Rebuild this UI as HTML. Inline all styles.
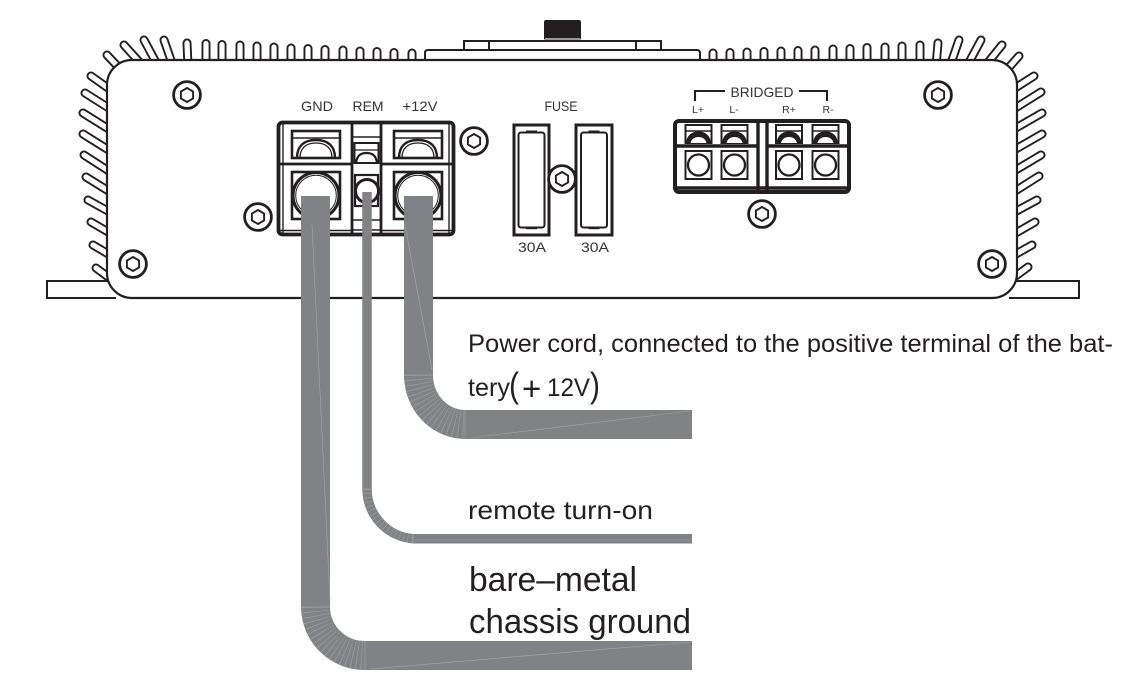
<!DOCTYPE html>
<html><head><meta charset="utf-8"><style>
html,body{margin:0;padding:0;background:#fff;width:1141px;height:691px;overflow:hidden}
svg{display:block}
text{font-family:"Liberation Sans",sans-serif;fill:#231f20}
.s{fill:none;stroke:#231f20}
.lab{font-size:14px;fill:#333;text-anchor:middle}
</style></head><body>
<svg width="1141" height="691" viewBox="0 0 1141 691" xmlns="http://www.w3.org/2000/svg">
<defs>
<g id="fins">
<line x1="187" y1="43" x2="188" y2="66"/><line x1="206" y1="43.5" x2="206" y2="66"/><line x1="222" y1="44.5" x2="222" y2="66"/><line x1="240" y1="45" x2="240" y2="66"/><line x1="257" y1="46" x2="257" y2="66"/><line x1="274" y1="47" x2="274" y2="66"/><line x1="291" y1="48" x2="291" y2="66"/><line x1="308" y1="48.5" x2="308" y2="66"/><line x1="325" y1="49.5" x2="325" y2="66"/><line x1="343" y1="50" x2="343" y2="66"/><line x1="360" y1="51" x2="360" y2="66"/><line x1="377" y1="51.5" x2="377" y2="66"/><line x1="394" y1="52.5" x2="394" y2="66"/><line x1="412" y1="53" x2="412" y2="66"/>
<line x1="713" y1="53" x2="713" y2="66"/><line x1="730" y1="52.5" x2="730" y2="66"/><line x1="747" y1="52" x2="747" y2="66"/><line x1="764" y1="51.5" x2="764" y2="66"/><line x1="781" y1="51" x2="781" y2="66"/><line x1="798" y1="50.5" x2="798" y2="66"/><line x1="815" y1="50" x2="815" y2="66"/><line x1="833" y1="49" x2="833" y2="66"/><line x1="850" y1="48.5" x2="850" y2="66"/><line x1="867" y1="47.5" x2="867" y2="66"/><line x1="885" y1="47" x2="885" y2="66"/><line x1="902" y1="46" x2="902" y2="66"/><line x1="920" y1="45" x2="920" y2="66"/><line x1="938" y1="43" x2="936" y2="66"/>
<line x1="164" y1="40" x2="173" y2="66"/><line x1="144" y1="40" x2="158" y2="66"/><line x1="124" y1="45" x2="143" y2="66"/><line x1="107" y1="55" x2="123" y2="72"/>
<line x1="91" y1="76" x2="115" y2="93"/><line x1="85" y1="93" x2="115" y2="112"/><line x1="83" y1="113" x2="115" y2="133"/><line x1="83" y1="134" x2="115" y2="154"/><line x1="84" y1="155" x2="115" y2="175"/><line x1="86" y1="177" x2="115" y2="195"/><line x1="88" y1="200" x2="115" y2="215"/><line x1="91" y1="222" x2="115" y2="236"/><line x1="93" y1="245" x2="115" y2="258"/><line x1="96" y1="268" x2="115" y2="282"/>
<line x1="959" y1="40" x2="950" y2="66"/><line x1="981" y1="40" x2="967" y2="66"/><line x1="1002" y1="45" x2="985" y2="66"/><line x1="1019" y1="56" x2="1003" y2="74"/>
<line x1="1034" y1="76" x2="1009" y2="92"/><line x1="1041" y1="92" x2="1009" y2="112"/><line x1="1042" y1="113" x2="1009" y2="132"/><line x1="1042" y1="134" x2="1009" y2="153"/><line x1="1041" y1="155" x2="1009" y2="174"/><line x1="1039" y1="176" x2="1009" y2="195"/><line x1="1037" y1="200" x2="1009" y2="215"/><line x1="1035" y1="222" x2="1009" y2="237"/><line x1="1032" y1="245" x2="1009" y2="258"/><line x1="1028" y1="267" x2="1009" y2="281"/>
</g>
<g id="sc" fill="none" stroke="#231f20"><circle r="13.4" stroke-width="2.8" fill="#fff"/><polygon points="0,-7 6.1,-3.5 6.1,3.5 0,7 -6.1,3.5 -6.1,-3.5" stroke-width="1.9"/></g>
<g id="bigtop" fill="none" stroke="#231f20">
<rect x="0" y="0" width="48" height="27" stroke-width="2.6"/>
<line x1="1" y1="7" x2="47" y2="7" stroke-width="1.4"/>
<path d="M5 27C5 15 12 9 24 9S43 15 43 27" stroke-width="2.4"/>
<path d="M8 27C8 17 14 12 24 12S40 17 40 27" stroke-width="1.3"/>
</g>
<g id="bigbot" fill="none" stroke="#231f20">
<rect x="0" y="0" width="48" height="47" stroke-width="2.6"/>
<circle cx="24" cy="23.5" r="23" fill="#fff" stroke-width="3"/>
<circle cx="24" cy="23.5" r="20.3" stroke-width="1"/>
</g>
<g id="stop" fill="none" stroke="#231f20">
<rect x="0" y="0" width="26" height="18" stroke-width="2"/>
<line x1="0" y1="6" x2="26" y2="6" stroke-width="1.4"/>
<path d="M1 18C2 10 7 7 13 7S24 10 25 18Z" fill="#231f20" stroke-width="1"/>
<path d="M5 18C6 14 9 12 13 12S20 14 21 18Z" fill="#fff" stroke="none"/>
</g>
<g id="sbot" fill="none" stroke="#231f20">
<rect x="0" y="0" width="26" height="28" stroke-width="2"/>
<circle cx="13" cy="14" r="10.5" fill="#fff" stroke-width="2.3"/>
</g>
</defs>

<use href="#fins" stroke="#231f20" stroke-width="9" stroke-linecap="round"/>
<use href="#fins" stroke="#fff" stroke-width="5.2" stroke-linecap="round"/>

<!-- top platform -->
<rect x="544" y="20" width="37" height="20" rx="2" fill="#231f20"/>
<rect x="545" y="38" width="35" height="3" fill="#999"/>
<path class="s" stroke-width="2" d="M425 60V53Q425 50 428 50H697Q700 50 700 53V60M464 50V41H661V50M489 41V50M636 41V50" fill="#fff"/>

<!-- flanges -->
<path class="s" stroke-width="2" fill="#fff" d="M116 281H47V298H116"/>
<path class="s" stroke-width="2" fill="#fff" d="M1009 281H1079V298H1009"/>

<!-- body -->
<rect x="107" y="60" width="910" height="238" rx="25" fill="#fff" stroke="#231f20" stroke-width="2.2"/>

<!-- screws -->
<use href="#sc" x="187" y="95"/><use href="#sc" x="258" y="217"/><use href="#sc" x="133" y="264"/>
<use href="#sc" x="938" y="95"/><use href="#sc" x="992" y="264"/><use href="#sc" x="474" y="141"/>
<use href="#sc" x="762" y="214"/>

<!-- main terminal -->
<rect x="278.5" y="122.500" width="175" height="112" rx="4" fill="#fff" stroke="#231f20" stroke-width="3.8"/>
<path class="s" stroke-width="2.8" d="M352 123V234M381 123V234M278 164H352M381 164H454"/>
<path class="s" stroke-width="1.4" d="M283 123V234M449 123V234M279 230.500H352M381 230.500H453M352 137H381M352 220H381M352 230H381"/>
<use href="#bigtop" x="292" y="131"/><use href="#bigtop" x="394" y="131"/>
<use href="#bigbot" x="292" y="172"/><use href="#bigbot" x="394" y="172"/>
<g fill="none" stroke="#231f20">
<rect x="354.500" y="143" width="24" height="20" stroke-width="2"/>
<line x1="355" y1="150" x2="378" y2="150" stroke-width="1.2"/>
<path d="M356 163C357 155 361 153 366.500 153S376 155 377 163" stroke-width="2.2"/>
<rect x="355" y="175" width="23" height="31" stroke-width="2.2"/>
<circle cx="367" cy="191" r="11.500" fill="#fff" stroke-width="3"/>
</g>

<!-- fuses -->
<g fill="none" stroke="#231f20">
<rect x="514" y="125" width="35" height="110" stroke-width="3"/>
<rect x="518.500" y="132.500" width="26" height="95" rx="2.500" stroke-width="2"/>
<rect x="526" y="130.500" width="11" height="2" fill="#231f20" stroke="none"/>
<rect x="526" y="227" width="11" height="2.200" fill="#231f20" stroke="none"/>
<rect x="576" y="125" width="36" height="110" stroke-width="3"/>
<rect x="581" y="132.500" width="26" height="95" rx="2.500" stroke-width="2"/>
<rect x="588.500" y="130.500" width="11" height="2" fill="#231f20" stroke="none"/>
<rect x="588.500" y="227" width="11" height="2.200" fill="#231f20" stroke="none"/>
</g>
<use href="#sc" x="562" y="179"/>

<!-- bridged block -->
<rect x="675" y="121" width="174" height="71" rx="4" fill="#fff" stroke="#231f20" stroke-width="4"/>
<path class="s" stroke-width="3.400" d="M675 146H757M767 146H849M758 120V192M767 120V192M675 188H849"/>
<use href="#stop" x="685.500" y="125"/><use href="#stop" x="721.500" y="125"/><use href="#stop" x="776" y="125"/><use href="#stop" x="812.500" y="125"/>
<use href="#sbot" x="685.500" y="151"/><use href="#sbot" x="721.500" y="151"/><use href="#sbot" x="776" y="151"/><use href="#sbot" x="812.500" y="151"/>
<path class="s" stroke-width="2.100" d="M695 101V91H725M799 91H827V101"/>

<!-- wires -->
<g fill="none" stroke="#808285">
<path stroke-width="29" d="M315.500 196V607A49 49 0 0 0 364.500 655.500H692"/>
<path stroke-width="29" d="M418.500 196V375A47 49.500 0 0 0 465.500 424.500H692"/>
<path stroke-width="9.500" d="M367 192V489A50 50 0 0 0 413 538.700H692"/>
</g>
<!-- radial ticks in bends -->
<g fill="none" stroke="#9a9b9e" stroke-dasharray=".7 3.600">
<path stroke-width="29" d="M315.500 607A49 49 0 0 0 364.500 655.500"/>
<path stroke-width="29" d="M418.500 375A47 49.500 0 0 0 465.500 424.500"/>
<path stroke-width="9.500" d="M367 489A50 50 0 0 0 413 538.700"/>
</g>
<!-- faint seams -->
<g fill="none" stroke="#a5a6a9" stroke-width=".6">
<path d="M312 225L330 600M405 225L432 370M470 438L690 411M370 669L690 642M301 607H330M404 375H433M365 641V670M465 410V439M362 489H372M413 534V543M414 540H690"/>
</g>

<!-- labels -->
<text class="lab" x="317" y="111" textLength="32" lengthAdjust="spacingAndGlyphs">GND</text>
<text class="lab" x="368" y="111" textLength="31" lengthAdjust="spacingAndGlyphs">REM</text>
<text class="lab" x="420" y="111" textLength="35" lengthAdjust="spacingAndGlyphs">+12V</text>
<text class="lab" x="561" y="111" textLength="33" lengthAdjust="spacingAndGlyphs">FUSE</text>
<text class="lab" x="532" y="252" textLength="28" lengthAdjust="spacingAndGlyphs">30A</text>
<text class="lab" x="595" y="252" textLength="28" lengthAdjust="spacingAndGlyphs">30A</text>
<text class="lab" x="762" y="97" textLength="63" lengthAdjust="spacingAndGlyphs">BRIDGED</text>
<text class="lab" x="698" y="113" style="font-size:10.5px">L+</text>
<text class="lab" x="734" y="113" style="font-size:10.5px">L-</text>
<text class="lab" x="789" y="113" style="font-size:10.5px">R+</text>
<text class="lab" x="828" y="113" style="font-size:10.5px">R-</text>

<text x="468" y="352" font-size="25" textLength="645" lengthAdjust="spacingAndGlyphs">Power cord, connected to the positive terminal of the bat-</text>
<text x="468" y="396" font-size="25" textLength="42" lengthAdjust="spacingAndGlyphs">tery</text>
<text x="509" y="397" font-size="35" textLength="10" lengthAdjust="spacingAndGlyphs">(</text>
<text x="522" y="400" font-size="33">+</text>
<text x="547" y="396" font-size="25" textLength="43" lengthAdjust="spacingAndGlyphs">12V</text>
<text x="590" y="397" font-size="35" textLength="10" lengthAdjust="spacingAndGlyphs">)</text>
<text x="468" y="519" font-size="26" textLength="185" lengthAdjust="spacingAndGlyphs">remote turn-on</text>
<text x="469" y="591" font-size="34" textLength="168" lengthAdjust="spacingAndGlyphs">bare–metal</text>
<text x="469" y="633" font-size="34" textLength="222" lengthAdjust="spacingAndGlyphs">chassis ground</text>
</svg>
</body></html>
